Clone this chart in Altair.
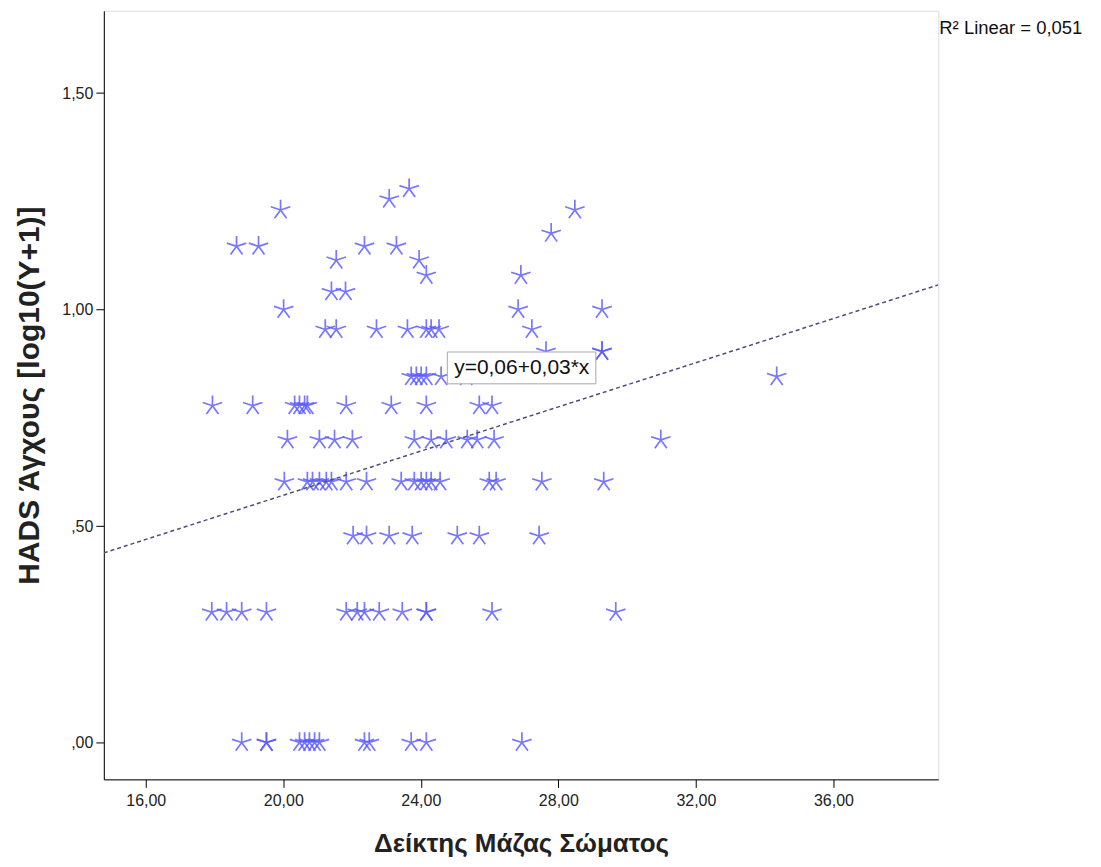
import altair as alt
import pandas as pd

# HADS anxiety levels (log10(Y+1)) and the BMI values of the points in each row
levels = [0.0, 0.301, 0.477, 0.602, 0.699, 0.778, 0.845, 0.903, 0.954,
          1.0, 1.041, 1.079, 1.114, 1.146, 1.176, 1.230, 1.255, 1.279]
bmi_by_level = [
    [18.79, 19.51, 19.51, 20.47, 20.62, 20.76, 20.91, 21.05, 22.36, 22.50, 23.72, 24.16, 26.94],
    [17.92, 18.35, 18.79, 19.51, 21.83, 22.15, 22.36, 22.79, 23.46, 24.16, 24.16, 26.07, 29.67],
    [22.03, 22.42, 23.08, 23.75, 25.06, 25.70, 27.44],
    [20.03, 20.70, 20.85, 21.05, 21.25, 21.40, 21.83, 22.42, 23.43, 23.81, 24.01, 24.16, 24.30,
     24.56, 25.99, 26.19, 27.52, 29.32],
    [20.12, 21.05, 21.49, 22.01, 23.81, 24.30, 24.74, 25.35, 25.64, 26.13, 30.98],
    [17.94, 19.11, 20.33, 20.47, 20.62, 20.70, 21.83, 23.14, 24.16, 25.70, 26.07],
    [23.72, 23.87, 24.01, 24.16, 24.59, 25.32, 34.35],
    [27.64, 29.27, 29.27],
    [21.22, 21.54, 22.71, 23.61, 24.16, 24.30, 24.53, 27.23],
    [20.01, 26.83, 29.27],
    [21.40, 21.81],
    [24.16, 26.91],
    [21.54, 23.95],
    [18.64, 19.28, 22.36, 23.29],
    [27.79],
    [19.92, 28.48],
    [23.08],
    [23.66],
]

# fit line endpoints
line_x = [14.78, 39.05]
line_y = [0.438, 1.057]
fit_label = "y=0,06+0,03*x"
r2_label = "R\u00b2 Linear = 0,051"

x_ticks = [16, 20, 24, 28, 32, 36]
y_ticks = [0.0, 0.5, 1.0, 1.5]

rows = []
for lv, xs in zip(levels, bmi_by_level):
    for xv in xs:
        rows.append({"bmi": xv, "hads": lv})
df = pd.DataFrame(rows)
line_df = pd.DataFrame({"bmi": line_x, "hads": line_y})
box_df = pd.DataFrame({"x1": [24.77], "x2": [29.09], "y1": [0.8285], "y2": [0.902],
                       "tx": [24.97], "ty": [0.864], "label": [fit_label]})

FONT = "Liberation Sans"
xscale = alt.Scale(domain=[14.78, 39.05], nice=False, zero=False)
yscale = alt.Scale(domain=[-0.085, 1.69], nice=False, zero=False)

xaxis = alt.Axis(values=x_ticks, title="Δείκτης Μάζας Σώματος",
                 labelExpr="replace(format(datum.value, '.2f'), '.', ',')",
                 grid=False, tickSize=8, labelFontSize=16, labelPadding=5,
                 titleFontSize=26, titleFontWeight="bold", titlePadding=22,
                 labelColor="#222", titleColor="#222", domainColor="black",
                 tickColor="black", labelFont=FONT, titleFont=FONT)
yaxis = alt.Axis(values=y_ticks, title="HADS Άγχους [log10(Y+1)]",
                 labelExpr="datum.value < 1 ? replace(format(datum.value, '.2f'), '0.', ',') : replace(format(datum.value, '.2f'), '.', ',')",
                 grid=False, tickSize=8, labelFontSize=16, labelPadding=3,
                 titleFontSize=30, titleFontWeight="bold", titlePadding=17,
                 labelColor="#222", titleColor="#222", domainColor="black",
                 tickColor="black", labelFont=FONT, titleFont=FONT)

star = "M0,0L0,-1M0,0L0.951,-0.309M0,0L0.588,0.809M0,0L-0.588,0.809M0,0L-0.951,-0.309"

points = alt.Chart(df).mark_point(
    shape=star, size=420, filled=False, stroke="#5a5aff", strokeWidth=1.7, opacity=0.82
).encode(
    x=alt.X("bmi:Q", scale=xscale, axis=xaxis),
    y=alt.Y("hads:Q", scale=yscale, axis=yaxis),
)

fit = alt.Chart(line_df).mark_line(
    color="#4d4d80", strokeDash=[4, 3], strokeWidth=1.5, clip=True
).encode(x=alt.X("bmi:Q", scale=xscale), y=alt.Y("hads:Q", scale=yscale))

box = alt.Chart(box_df).mark_rect(fill="white", stroke="#a8a8a8", strokeWidth=1).encode(
    x=alt.X("x1:Q", scale=xscale), x2="x2:Q",
    y=alt.Y("y1:Q", scale=yscale), y2="y2:Q")

box_text = alt.Chart(box_df).mark_text(
    align="left", baseline="middle", fontSize=21, font=FONT, color="#111"
).encode(x=alt.X("tx:Q", scale=xscale), y=alt.Y("ty:Q", scale=yscale), text="label:N")

r2 = alt.Chart(pd.DataFrame({"t": [r2_label]})).mark_text(
    align="left", baseline="middle", fontSize=18.5, font=FONT, color="#111"
).encode(x=alt.value(837), y=alt.value(17), text="t:N")

chart = alt.layer(points, fit, box, box_text, r2).properties(
    width=836, height=770,
    autosize=alt.AutoSizeParams(type="none"),
    padding={"left": 96, "top": 2, "right": 155, "bottom": 86},
).configure_view(stroke="#7f7f7f", strokeWidth=1.5).configure(background="white")

chart.save("out.html", embed_options={"renderer": "svg", "actions": False})
